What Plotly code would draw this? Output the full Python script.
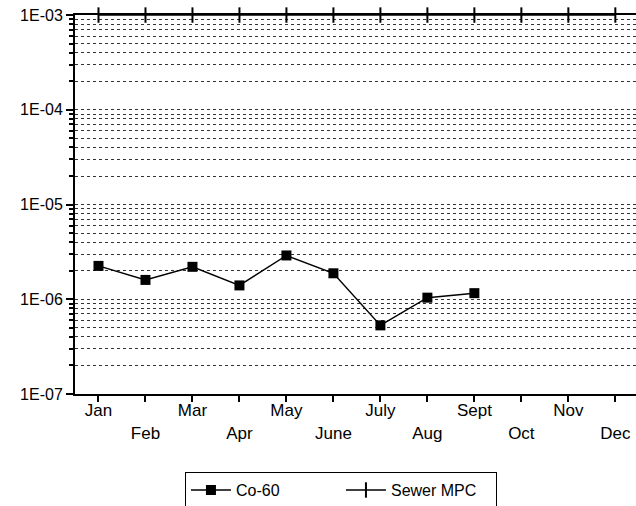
import plotly.graph_objects as go

months = ["Jan", "Feb", "Mar", "Apr", "May", "June", "July", "Aug", "Sept", "Oct", "Nov", "Dec"]
co60 = [2.25e-6, 1.6e-6, 2.2e-6, 1.4e-6, 2.9e-6, 1.88e-6, 0.53e-6, 1.04e-6, 1.16e-6]
sewer_mpc = [1e-3] * 12
y_tick_vals = [1e-7, 1e-6, 1e-5, 1e-4, 1e-3]
y_tick_text = ["1E-07", "1E-06", "1E-05", "1E-04", "1E-03"]

x_idx = list(range(len(months)))
tick_text = [m if i % 2 == 0 else "<br>" + m for i, m in enumerate(months)]

FAM = "Liberation Sans, Arial, Helvetica, sans-serif"

fig = go.Figure()
fig.add_trace(go.Scatter(
    x=x_idx[:len(co60)], y=co60, name="Co-60", mode="lines+markers",
    line=dict(color="black", width=1.5),
    marker=dict(symbol="square", size=10, color="black"),
))
fig.add_trace(go.Scatter(
    x=x_idx, y=sewer_mpc, name="Sewer MPC", mode="lines+markers",
    line=dict(color="black", width=1.5),
    marker=dict(symbol="line-ns", size=11, line=dict(color="black", width=2)),
    cliponaxis=False,
))

fig.update_layout(
    width=636, height=506,
    margin=dict(l=75, r=0, t=15, b=112, autoexpand=False),
    paper_bgcolor="white", plot_bgcolor="white",
    font=dict(family=FAM, size=16, color="black"),
    showlegend=True,
    legend=dict(
        orientation="h", x=0.196, y=-0.206, xanchor="left", yanchor="top",
        bordercolor="black", borderwidth=1,
        font=dict(family=FAM, size=16, color="black"),
        itemwidth=40, entrywidth=100,
    ),
)
fig.update_xaxes(
    range=[-0.5, 11.44], tickvals=x_idx, ticktext=tick_text,
    showgrid=False, showline=True, linecolor="black", linewidth=2, mirror=True,
    ticks="outside", ticklen=6, tickwidth=1.5, tickcolor="black",
    tickfont=dict(family=FAM, size=17, color="black"),
    ticklabelstandoff=-6,
    zeroline=False, automargin=False,
)
fig.update_yaxes(
    type="log", range=[-7, -2.9995], tickvals=y_tick_vals, ticktext=y_tick_text,
    showline=True, linecolor="black", linewidth=2,
    ticks="outside", ticklen=7, tickwidth=1.5, tickcolor="black",
    showgrid=True, gridcolor="#333", griddash="dot", gridwidth=1.3,
    minor=dict(dtick="D1", showgrid=True, gridcolor="#333", griddash="dot", gridwidth=1.3,
               ticks="outside", ticklen=4, tickcolor="black"),
    tickfont=dict(family=FAM, size=16, color="black"),
    automargin=False,
)

fig.write_html("out.html", config={"displayModeBar": False},
               post_script="document.body.style.margin='0';")
